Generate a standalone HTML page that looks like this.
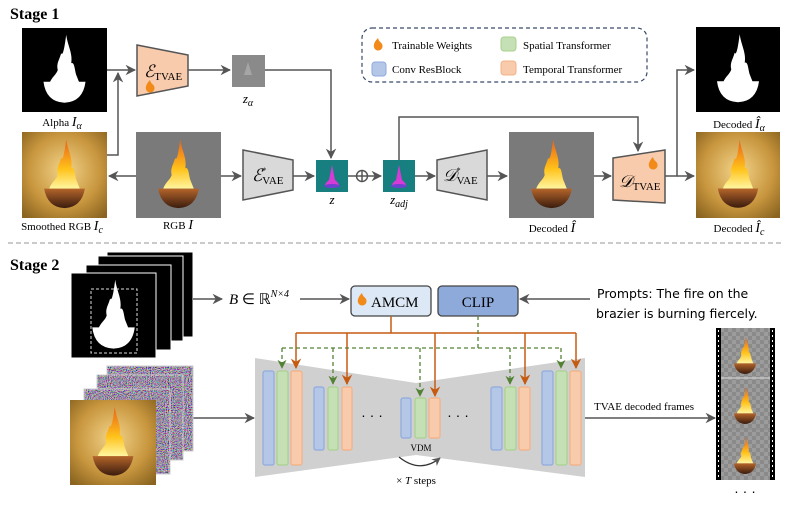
<!DOCTYPE html>
<html><head><meta charset="utf-8"><style>
html,body{margin:0;padding:0;background:#fff;}
svg{display:block;}
.s{font-family:"Liberation Serif",serif;}
</style></head><body>
<svg width="789" height="511" viewBox="0 0 789 511" xmlns="http://www.w3.org/2000/svg">
<defs>
<marker id="ar" viewBox="0 0 10 10" refX="9" refY="5" markerWidth="7" markerHeight="7" orient="auto-start-reverse"><path d="M0,0 L10,5 L0,10 L3,5Z" fill="#555"/></marker>
<marker id="ao" viewBox="0 0 10 10" refX="9" refY="5" markerWidth="7" markerHeight="7" orient="auto"><path d="M0,0 L10,5 L0,10 L3,5Z" fill="#c55a11"/></marker>
<marker id="ag" viewBox="0 0 10 10" refX="9" refY="5" markerWidth="7" markerHeight="7" orient="auto"><path d="M0,0 L10,5 L0,10 L3,5Z" fill="#548235"/></marker>
<linearGradient id="flame" x1="0" y1="1" x2="0" y2="0"><stop offset="0" stop-color="#fff6a0"/><stop offset="0.4" stop-color="#ffc21a"/><stop offset="1" stop-color="#e8601a"/></linearGradient>
<linearGradient id="bowl" x1="0" y1="0" x2="0" y2="1"><stop offset="0" stop-color="#b5652a"/><stop offset="1" stop-color="#3a1c0e"/></linearGradient>
<radialGradient id="gold" cx="0.5" cy="0.45" r="0.7"><stop offset="0" stop-color="#f2d48a"/><stop offset="0.6" stop-color="#c8963e"/><stop offset="1" stop-color="#8a6420"/></radialGradient>
<pattern id="chk" width="8" height="8" patternUnits="userSpaceOnUse"><rect width="8" height="8" fill="#8a8a8a"/><rect width="4" height="4" fill="#9c9c9c"/><rect x="4" y="4" width="4" height="4" fill="#9c9c9c"/></pattern>
<filter id="noise" x="0" y="0" width="1" height="1"><feTurbulence type="fractalNoise" baseFrequency="0.95" numOctaves="1" seed="3"/><feColorMatrix type="matrix" values="1.8 0 0 0 -0.55  0 1.8 0 0 -0.6  0 0 1.8 0 -0.5  0 0 0 0 1"/></filter>
<symbol id="fire" viewBox="0 0 100 100">
<path d="M52,8 C54,22 60,30 58,42 C62,40 62,50 64,56 L68,66 L32,66 C35,58 40,56 42,50 C40,42 44,38 46,30 C48,34 50,24 52,8Z" fill="url(#flame)"/>
<path d="M26,66 L74,66 Q70,88 50,89 Q30,88 26,66Z" fill="url(#bowl)"/>
</symbol>
<symbol id="mask" viewBox="0 0 100 100">
<path d="M52,8 C54,22 60,30 58,42 C62,40 62,50 64,56 L68,66 L32,66 C35,58 40,56 42,50 C40,42 44,38 46,30 C48,34 50,24 52,8Z" fill="#fff"/>
<path d="M25,64 L75,64 Q72,88 50,89 Q28,88 25,64Z" fill="#fff"/>
</symbol>
<symbol id="cone" viewBox="0 0 32 32"><path d="M16,5 L19,20 Q25,25 22,27 L10,27 Q7,25 13,20Z" fill="#d83ad8"/><ellipse cx="16" cy="26" rx="8" ry="2" fill="#7040d0"/></symbol>
</defs>

<!-- Stage 1 -->
<text x="10" y="19" class="s" font-size="16" font-weight="bold">Stage 1</text>
<rect x="22" y="28" width="85" height="84" fill="#000"/>
<use href="#mask" x="22" y="28" width="85" height="84"/>
<text x="62" y="126" class="s" font-size="11" text-anchor="middle">Alpha <tspan font-style="italic" font-size="14">I</tspan><tspan font-style="italic" font-size="10" dy="3">α</tspan></text>
<rect x="22" y="132" width="85" height="86" fill="url(#gold)"/>
<use href="#fire" x="22" y="132" width="85" height="86"/>
<text x="62" y="230" class="s" font-size="11" text-anchor="middle">Smoothed RGB <tspan font-style="italic" font-size="14">I</tspan><tspan font-style="italic" font-size="10" dy="3">c</tspan></text>
<rect x="136" y="132" width="85" height="86" fill="#7a7a7a"/>
<use href="#fire" x="136" y="132" width="85" height="86"/>
<text x="178" y="229" class="s" font-size="11" text-anchor="middle">RGB <tspan font-style="italic" font-size="14">I</tspan></text>

<polygon points="137,45 188,55 188,86 137,96" fill="#f8cbad" stroke="#555" stroke-width="1.5"/>
<text x="144" y="77" class="s" font-size="17" font-style="italic">ℰ<tspan font-style="normal" font-size="11" dy="3">TVAE</tspan></text>
<path d="M150,80 C146,84 144,89 148,92 C152,94 156,90 154,86 C153,84 151,84 150,80Z" fill="#f28a1a"/>
<rect x="232" y="55" width="33" height="32" fill="#8a8a8a"/>
<path d="M248,62 L252,75 L244,75Z" fill="#a5a5a5"/>
<text x="248" y="103" class="s" font-size="13" font-style="italic" text-anchor="middle">z<tspan font-size="10" dy="3">α</tspan></text>

<g stroke="#555" stroke-width="1.5" fill="none">
<line x1="107" y1="70" x2="135" y2="70" marker-end="url(#ar)"/>
<polyline points="107,155 118,155 118,73" marker-end="url(#ar)"/>
<line x1="188" y1="70" x2="230" y2="70" marker-end="url(#ar)"/>
<polyline points="265,70 331,70 331,158" marker-end="url(#ar)"/>
<line x1="136" y1="176" x2="109" y2="176" marker-end="url(#ar)"/>
<line x1="221" y1="176" x2="241" y2="176" marker-end="url(#ar)"/>
<line x1="293" y1="176" x2="314" y2="176" marker-end="url(#ar)"/>
<line x1="348" y1="176" x2="356" y2="176"/>
<line x1="368" y1="176" x2="381" y2="176" marker-end="url(#ar)"/>
<line x1="415" y1="176" x2="435" y2="176" marker-end="url(#ar)"/>
<line x1="487" y1="176" x2="507" y2="176" marker-end="url(#ar)"/>
<line x1="594" y1="176" x2="611" y2="176" marker-end="url(#ar)"/>
<polyline points="399,160 399,117 638,117 638,151" marker-end="url(#ar)"/>
<polyline points="665,176 677,176 677,70 694,70" marker-end="url(#ar)"/>
<line x1="677" y1="176" x2="694" y2="176" marker-end="url(#ar)"/>
<circle cx="362" cy="176" r="5.5"/><line x1="356.5" y1="176" x2="367.5" y2="176"/><line x1="362" y1="170.5" x2="362" y2="181.5"/>
</g>

<polygon points="243,150 293,160 293,190 243,200" fill="#d9d9d9" stroke="#555" stroke-width="1.5"/>
<text x="252" y="181" class="s" font-size="17" font-style="italic">ℰ<tspan font-style="normal" font-size="8" dy="-8">*</tspan><tspan font-style="normal" font-size="11" dy="11" dx="-4">VAE</tspan></text>
<rect x="316" y="160" width="32" height="32" fill="#177f7f"/>
<use href="#cone" x="316" y="160" width="32" height="32"/>
<text x="332" y="204" class="s" font-size="13" font-style="italic" text-anchor="middle">z</text>
<rect x="383" y="160" width="32" height="32" fill="#177f7f"/>
<use href="#cone" x="383" y="160" width="32" height="32"/>
<text x="399" y="204" class="s" font-size="13" font-style="italic" text-anchor="middle">z<tspan font-size="10" dy="3">adj</tspan></text>
<polygon points="437,160 487,150 487,200 437,190" fill="#d9d9d9" stroke="#555" stroke-width="1.5"/>
<text x="443" y="181" class="s" font-size="17" font-style="italic">𝒟<tspan font-style="normal" font-size="8" dy="-8">*</tspan><tspan font-style="normal" font-size="11" dy="11" dx="-4">VAE</tspan></text>
<rect x="509" y="132" width="85" height="86" fill="#7a7a7a"/>
<use href="#fire" x="509" y="132" width="85" height="86"/>
<text x="552" y="232" class="s" font-size="11" text-anchor="middle">Decoded <tspan font-style="italic" font-size="14">Î</tspan></text>
<polygon points="613,158 665,150 665,203 613,200" fill="#f8cbad" stroke="#555" stroke-width="1.5"/>
<text x="619" y="187" class="s" font-size="17" font-style="italic">𝒟<tspan font-style="normal" font-size="11" dy="3">TVAE</tspan></text>
<path d="M653,157 C649,161 647,166 651,169 C655,171 659,167 657,163 C656,161 654,161 653,157Z" fill="#f28a1a"/>

<rect x="696" y="27" width="84" height="85" fill="#000"/>
<use href="#mask" x="696" y="27" width="84" height="85"/>
<text x="739" y="128" class="s" font-size="11" text-anchor="middle">Decoded  <tspan font-style="italic" font-size="14">Î</tspan><tspan font-style="italic" font-size="10" dy="3">α</tspan></text>
<rect x="696" y="132" width="84" height="86" fill="url(#gold)"/>
<use href="#fire" x="696" y="132" width="84" height="86"/>
<text x="739" y="232" class="s" font-size="11" text-anchor="middle">Decoded  <tspan font-style="italic" font-size="14">Î</tspan><tspan font-style="italic" font-size="10" dy="3">c</tspan></text>

<!-- legend -->
<rect x="362" y="28" width="285" height="54" rx="10" fill="none" stroke="#3a4a6a" stroke-width="1.2" stroke-dasharray="4,3"/>
<path d="M378,38 C374,42 372,47 376,50 C380,52 384,48 382,44 C381,42 379,42 378,38Z" fill="#f28a1a"/>
<text x="392" y="49" class="s" font-size="11">Trainable Weights</text>
<rect x="372" y="62" width="14" height="14" rx="3" fill="#b4c7e7" stroke="#8faadc"/>
<text x="392" y="73" class="s" font-size="11">Conv ResBlock</text>
<rect x="501" y="37" width="15" height="14" rx="3" fill="#c5e0b4" stroke="#a9d18e"/>
<text x="523" y="49" class="s" font-size="11">Spatial Transformer</text>
<rect x="501" y="61" width="15" height="14" rx="3" fill="#f8cbad" stroke="#f4b183"/>
<text x="523" y="73" class="s" font-size="11">Temporal Transformer</text>

<line x1="8" y1="243" x2="781" y2="243" stroke="#aaa" stroke-width="1.2" stroke-dasharray="5,3"/>

<!-- Stage 2 -->
<text x="10" y="270" class="s" font-size="16" font-weight="bold">Stage 2</text>
<rect x="107" y="252" width="86" height="85" fill="#000" stroke="#fff"/>
<rect x="98" y="256" width="85" height="85" fill="#000" stroke="#fff"/>
<rect x="86" y="265" width="85" height="85" fill="#000" stroke="#fff"/>
<rect x="71" y="273" width="85" height="85" fill="#000" stroke="#fff"/>
<use href="#mask" x="71" y="273" width="85" height="85"/>
<rect x="91" y="289" width="46" height="64" fill="none" stroke="#ddd" stroke-dasharray="3,2"/>
<g stroke="#555" stroke-width="1.5" fill="none">
<line x1="193" y1="299" x2="222" y2="299" marker-end="url(#ar)"/>
<line x1="300" y1="299" x2="349" y2="299" marker-end="url(#ar)"/>
<line x1="590" y1="299" x2="520" y2="299" marker-end="url(#ar)"/>
<line x1="193" y1="418" x2="254" y2="418" marker-end="url(#ar)"/>
<line x1="585" y1="418" x2="715" y2="418" marker-end="url(#ar)"/>
</g>
<text x="229" y="304" class="s" font-size="15" font-style="italic">B <tspan font-style="normal">∈ ℝ</tspan><tspan font-size="10" dy="-7">N×4</tspan></text>
<rect x="351" y="286" width="80" height="30" rx="4" fill="#dce8f5" stroke="#444" stroke-width="1.3"/>
<path d="M362,293 C358,297 356,302 360,305 C364,307 368,303 366,299 C365,297 363,297 362,293Z" fill="#f28a1a"/>
<text x="371" y="307" class="s" font-size="15">AMCM</text>
<rect x="438" y="286" width="80" height="30" rx="4" fill="#8eaadb" stroke="#444" stroke-width="1.3"/>
<text x="478" y="307" class="s" font-size="15" text-anchor="middle">CLIP</text>
<text x="597" y="298" font-family="'DejaVu Sans',sans-serif" font-size="12.5">Prompts:  The fire on the</text>
<text x="596" y="318" font-family="'DejaVu Sans',sans-serif" font-size="12.5">brazier is burning fiercely.</text>

<!-- noise stack -->
<rect x="107" y="366" width="86" height="85" fill="#777" filter="url(#noise)"/>
<rect x="107" y="366" width="86" height="85" fill="none" stroke="#ccc"/>
<rect x="97" y="375" width="86" height="85" fill="#777" filter="url(#noise)"/>
<rect x="97" y="375" width="86" height="85" fill="none" stroke="#ccc"/>
<rect x="84" y="389" width="86" height="85" fill="#777" filter="url(#noise)"/>
<rect x="84" y="389" width="86" height="85" fill="none" stroke="#ccc"/>
<rect x="70" y="400" width="86" height="85" fill="url(#gold)"/>
<use href="#fire" x="70" y="400" width="86" height="85"/>

<!-- hourglass -->
<polygon points="255,358 416,383 585,358 585,477 416,455 255,477" fill="#d0d0d0"/>
<g stroke-width="1.2">
<g fill="#b4c7e7" stroke="#8faadc"><rect x="263" y="371" width="11" height="94" rx="2"/><rect x="314" y="387" width="10" height="63" rx="2"/><rect x="401" y="398" width="10" height="40" rx="2"/><rect x="491" y="387" width="11" height="63" rx="2"/><rect x="542" y="371" width="11" height="94" rx="2"/></g>
<g fill="#c5e0b4" stroke="#a9d18e"><rect x="277" y="371" width="11" height="94" rx="2"/><rect x="328" y="387" width="10" height="63" rx="2"/><rect x="415" y="398" width="11" height="40" rx="2"/><rect x="505" y="387" width="11" height="63" rx="2"/><rect x="556" y="371" width="11" height="94" rx="2"/></g>
<g fill="#f8cbad" stroke="#f4b183"><rect x="291" y="371" width="11" height="94" rx="2"/><rect x="342" y="387" width="10" height="63" rx="2"/><rect x="429" y="398" width="11" height="40" rx="2"/><rect x="519" y="387" width="11" height="63" rx="2"/><rect x="570" y="371" width="11" height="94" rx="2"/></g>
</g>
<text x="372" y="420" font-size="14" text-anchor="middle" font-family="'Liberation Sans',sans-serif">· · ·</text>
<text x="458" y="420" font-size="14" text-anchor="middle" font-family="'Liberation Sans',sans-serif">· · ·</text>
<text x="421" y="451" class="s" font-size="9" text-anchor="middle">VDM</text>
<path d="M399,457 Q420,474 440,458" fill="none" stroke="#333" stroke-width="1.2" marker-end="url(#ar)"/>
<text x="416" y="484" class="s" font-size="11" text-anchor="middle">× <tspan font-style="italic">T</tspan> steps</text>

<!-- orange -->
<g stroke="#c55a11" stroke-width="1.5" fill="none">
<polyline points="391,316 391,333"/>
<line x1="296" y1="333" x2="576" y2="333"/>
<line x1="296" y1="333" x2="296" y2="368" marker-end="url(#ao)"/>
<line x1="347" y1="333" x2="347" y2="384" marker-end="url(#ao)"/>
<line x1="435" y1="333" x2="435" y2="396" marker-end="url(#ao)"/>
<line x1="525" y1="333" x2="525" y2="384" marker-end="url(#ao)"/>
<line x1="576" y1="333" x2="576" y2="368" marker-end="url(#ao)"/>
</g>
<g stroke="#548235" stroke-width="1.3" fill="none" stroke-dasharray="4,3">
<polyline points="478,316 478,348"/>
<line x1="282" y1="348" x2="561" y2="348"/>
<line x1="282" y1="348" x2="282" y2="368" marker-end="url(#ag)"/>
<line x1="333" y1="348" x2="333" y2="384" marker-end="url(#ag)"/>
<line x1="420" y1="348" x2="420" y2="396" marker-end="url(#ag)"/>
<line x1="510" y1="348" x2="510" y2="384" marker-end="url(#ag)"/>
<line x1="561" y1="348" x2="561" y2="368" marker-end="url(#ag)"/>
</g>
<text x="594" y="410" class="s" font-size="11">TVAE decoded frames</text>

<!-- film strip -->
<rect x="716" y="328" width="59" height="152" fill="#000"/>
<rect x="721" y="328" width="49" height="152" fill="url(#chk)"/>
<line x1="721" y1="378" x2="770" y2="378" stroke="#ddd"/>
<line x1="721" y1="429" x2="770" y2="429" stroke="#888"/>
<line x1="718.5" y1="330" x2="718.5" y2="480" stroke="#fff" stroke-width="1" stroke-dasharray="2,3"/>
<line x1="772.5" y1="330" x2="772.5" y2="480" stroke="#fff" stroke-width="1" stroke-dasharray="2,3"/>
<use href="#fire" x="722" y="333" width="46" height="46"/>
<use href="#fire" x="722" y="383" width="46" height="46"/>
<use href="#fire" x="722" y="433" width="46" height="46"/>
<text x="745" y="496" font-size="14" text-anchor="middle" font-family="'Liberation Sans',sans-serif">· · ·</text>
</svg>
</body></html>
